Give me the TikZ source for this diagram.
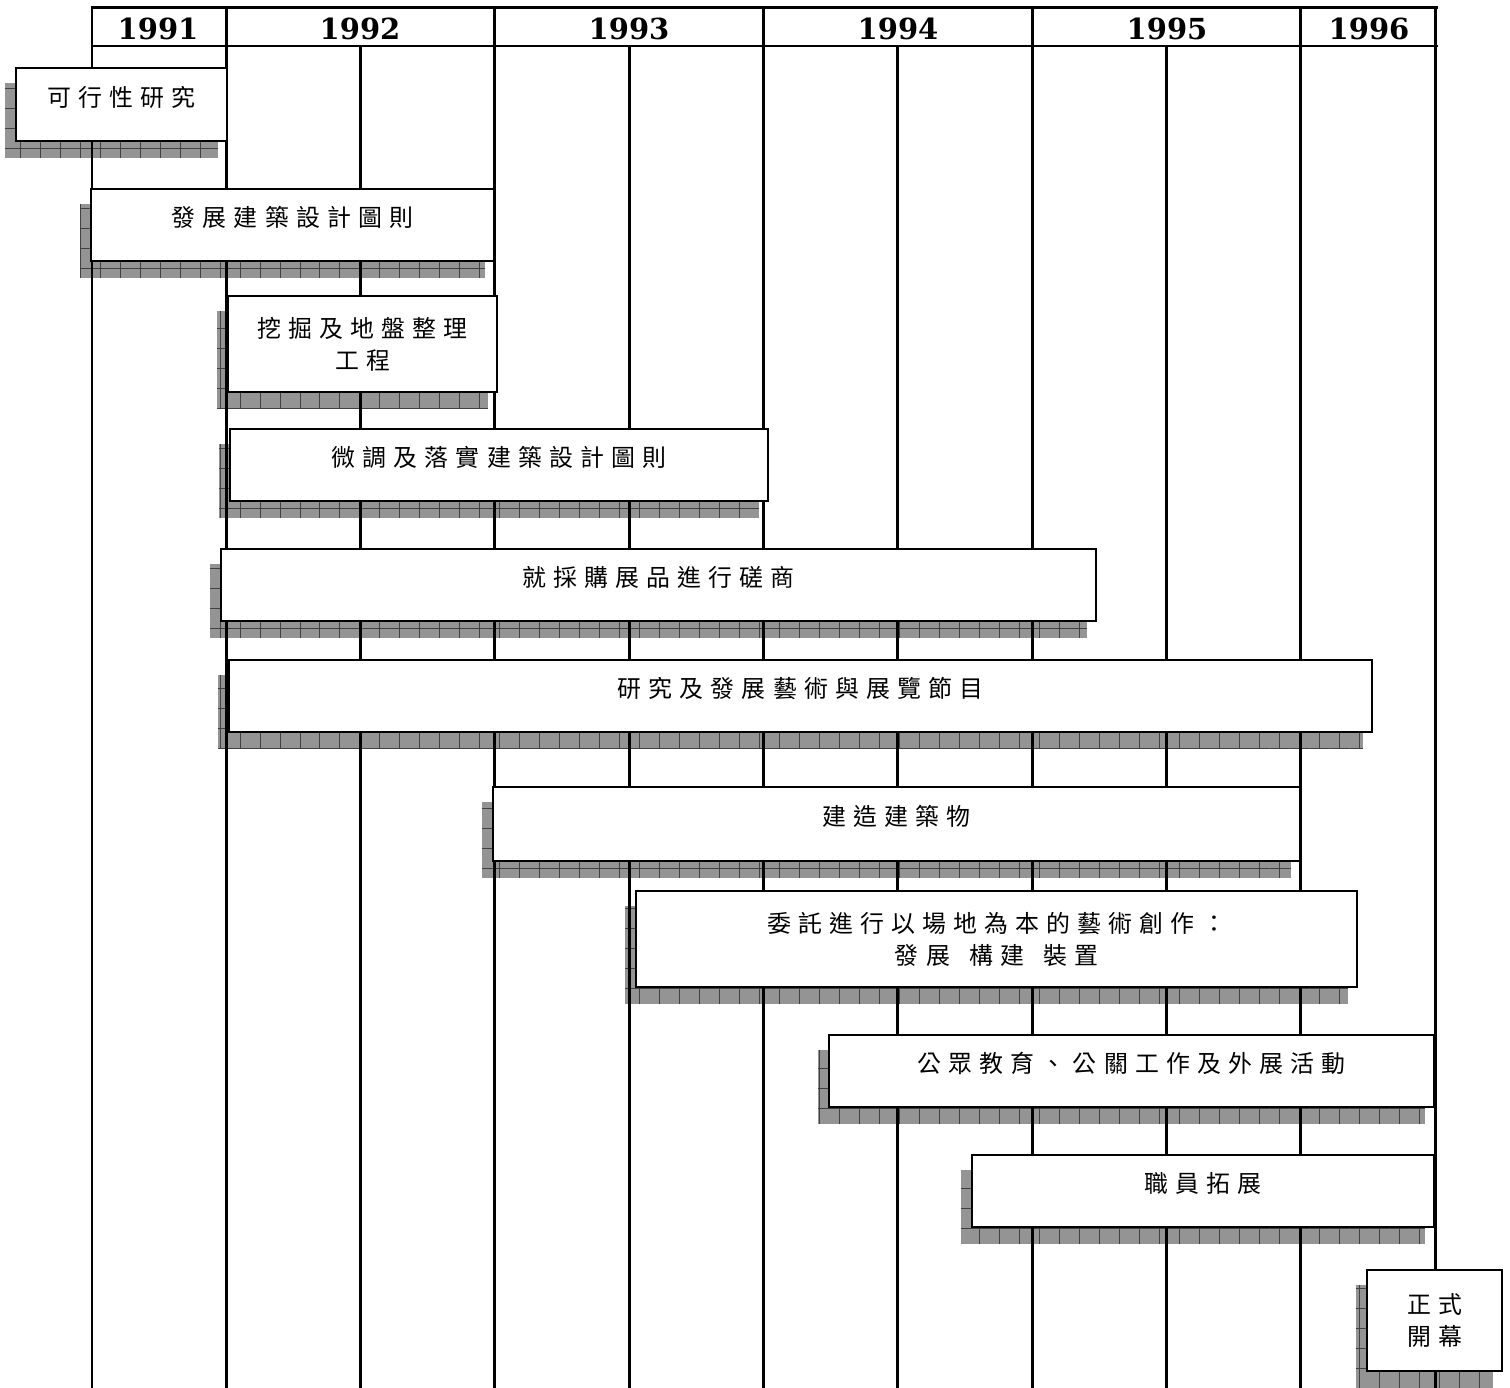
\documentclass[tikz,border=0pt]{standalone}
\usepackage{fontspec}
\newfontfamily\cjk[LetterSpace=30]{Noto Sans CJK TC}
\newfontfamily\yearfont{DejaVu Serif}
\usepackage{tikz}
\usetikzlibrary{positioning,patterns.meta}

\pgfdeclarelayer{shade}
\pgfdeclarelayer{rules}
\pgfsetlayers{shade,rules,main}

\begin{document}
\begin{tikzpicture}[x=0.02cm,y=-0.02cm,
    task/.style={draw,line width=1.1pt,fill=white,align=center,inner sep=0pt,
        font=\cjk\fontsize{13.6}{18.2}\selectfont},
    oneline/.style={text depth=0.33cm},
    shade box/.style={preaction={fill=black!42},
        pattern={Hatch[distance=0.4cm,line width=0.5pt]},pattern color=black!75},
    rule/.style={line width=1.7pt,line cap=rect},
    year/.style={font=\yearfont\bfseries\fontsize{16.5}{20}\selectfont}]
    \useasboundingbox (0,0) rectangle (1510,1388);

    % years
    \node[year] (y1991) at (158,29) {1991};
    \node[year] (y1992) at (360,29) {1992};
    \node[year] (y1993) at (629,29) {1993};
    \node[year] (y1994) at (898,29) {1994};
    \node[year] (y1995) at (1167,29) {1995};
    \node[year] (y1996) at (1369,29) {1996};

    \begin{pgfonlayer}{rules}
        \draw[rule] (92,8) -- (1436,8) (92,46) -- (1436,46);
        \foreach \i in {0,1,3,5,7,9,10}
            \draw[rule] (92+134.3*\i,8) -- (92+134.3*\i,1388);
        \foreach \i in {2,4,6,8}
            \draw[rule] (92+134.3*\i,46) -- (92+134.3*\i,1388);
    \end{pgfonlayer}

    % tasks
    \node[task,oneline,minimum width=4.22cm,minimum height=1.46cm] (feas) at (121.5,104.5) {可行性研究};
    \node[task,oneline,minimum width=8.06cm,minimum height=1.44cm] (design) at (292.5,225) {發展建築設計圖則};
    \node[task,minimum width=5.38cm,minimum height=1.92cm] (excav) at (362.5,344) {挖掘及地盤整理\\工程};
    \node[task,oneline,minimum width=10.76cm,minimum height=1.44cm] (refine) at (499,465) {微調及落實建築設計圖則};
    \node[task,oneline,minimum width=17.5cm,minimum height=1.44cm] (acquire) at (658.5,585) {就採購展品進行磋商};
    \node[task,oneline,minimum width=22.86cm,minimum height=1.44cm] (progs) at (800.5,696) {研究及發展藝術與展覽節目};
    \node[task,oneline,minimum width=16.14cm,minimum height=1.48cm] (build) at (896.5,824) {建造建築物};
    \node[task,minimum width=14.42cm,minimum height=1.92cm] (commis) at (996.5,939) {委託進行以場地為本的藝術創作：\\發展\hspace{0.8em}構建\hspace{0.8em}裝置};
    \node[task,oneline,minimum width=12.1cm,minimum height=1.44cm] (outreach) at (1131.5,1071) {公眾教育、公關工作及外展活動};
    \node[task,oneline,minimum width=9.24cm,minimum height=1.44cm] (staff) at (1203,1191) {職員拓展};
    \node[task,minimum width=2.7cm,minimum height=2.02cm] (opening) at (1434.5,1320.5) {正式\\開幕};

    \begin{pgfonlayer}{shade}
        \foreach \n in {feas,design,excav,refine,acquire,progs,build,commis,outreach,staff,opening}
            \path[shade box] ([shift={(-10,16)}]\n.south west) rectangle ([shift={(-10,16)}]\n.north east);
    \end{pgfonlayer}
\end{tikzpicture}
\end{document}
